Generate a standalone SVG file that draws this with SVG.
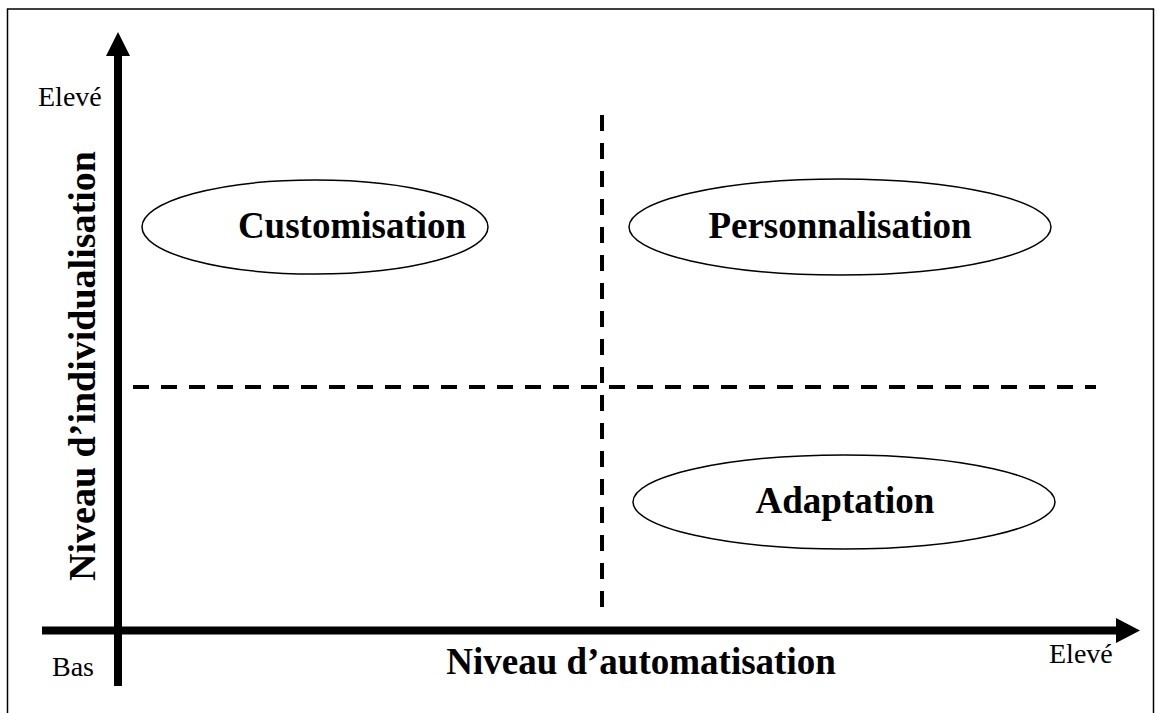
<svg xmlns="http://www.w3.org/2000/svg" width="1158" height="713" viewBox="0 0 1158 713">
<style>
  .t { font-family: "Liberation Serif", "Times New Roman", serif; fill: #000; }
  .b { font-weight: bold; font-size: 37px; }
  .r { font-size: 28px; }
  .ell { fill: none; stroke: #000; stroke-width: 1.5; }
  .dash { stroke: #000; stroke-width: 4; stroke-dasharray: 16 12; fill: none; }
  .axis { stroke: #000; stroke-width: 8; fill: none; }
</style>
<rect x="0" y="0" width="1158" height="713" fill="#fff"/>
<rect id="frame" x="7.5" y="9" width="1146" height="710" fill="none" stroke="#000" stroke-width="1.5"/>
<g id="connectors">
  <line class="dash" x1="602" y1="115" x2="602" y2="608"/>
  <line class="dash" x1="133" y1="387" x2="1096" y2="387"/>
  <line class="axis" x1="118" y1="52" x2="118" y2="686"/>
  <polygon points="118,32 106,56 130,56" fill="#000"/>
  <line class="axis" x1="42" y1="630.5" x2="1120" y2="630.5"/>
  <polygon points="1140,630.5 1116,618 1116,643" fill="#000"/>
</g>
<g id="customisation">
  <ellipse class="ell" cx="315" cy="227" rx="173" ry="47"/>
  <text class="t b" x="352" y="238" text-anchor="middle">Customisation</text>
</g>
<g id="personnalisation">
  <ellipse class="ell" cx="840" cy="227" rx="211" ry="48"/>
  <text class="t b" x="840" y="238" text-anchor="middle">Personnalisation</text>
</g>
<g id="adaptation">
  <ellipse class="ell" cx="844" cy="502" rx="211" ry="47"/>
  <text class="t b" x="845" y="513" text-anchor="middle">Adaptation</text>
</g>
<g id="labels">
  <text class="t r" x="38" y="106">Elevé</text>
  <text class="t r" x="52" y="676">Bas</text>
  <text class="t r" x="1049" y="663">Elevé</text>
  <text class="t b" x="641" y="674" text-anchor="middle">Niveau d’automatisation</text>
  <text class="t b" transform="translate(95,366) rotate(-90)" text-anchor="middle" style="font-size:38px">Niveau d’individualisation</text>
</g>
</svg>
